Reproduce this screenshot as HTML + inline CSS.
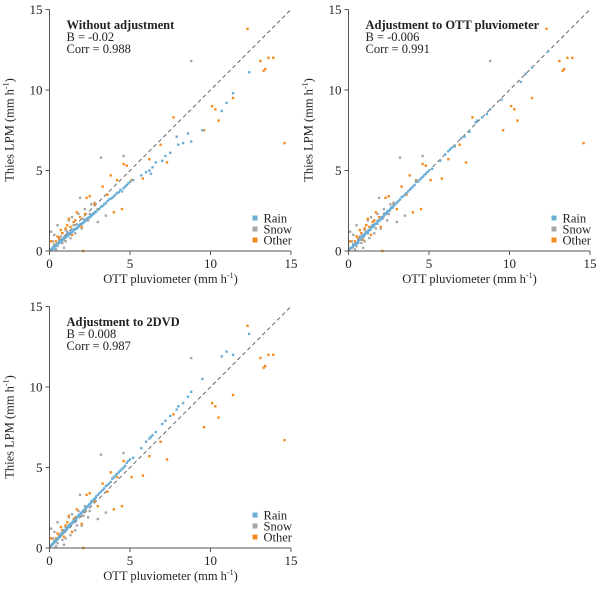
<!DOCTYPE html>
<html><head><meta charset="utf-8"><style>
body{margin:0;background:#fff}
svg text{font-family:"Liberation Serif",serif;fill:#222}
</style></head><body>
<svg id="c" width="600" height="598" xmlns="http://www.w3.org/2000/svg"></svg>
<script>
const ticks=[0,5,10,15];
const tickLabels=["0","5","10","15"];
const seriesNames=["Rain","Snow","Other"];
const colors={Rain:"#6aaed6",Snow:"#a6a6a6",Other:"#f58a1f"};
const titles=["Without adjustment","Adjustment to OTT pluviometer","Adjustment to 2DVD"];
const biasVals=["-0.02","-0.006","0.008"];
const corrVals=["0.988","0.991","0.987"];
const rainX=[0.2,0.3,0.4,0.5,0.6,0.7,0.8,0.9,1,1.1,1.2,1.3,1.4,1.5,1.6,1.7,1.8,1.9,2,2.1,2.2,2.3,2.4,2.5,2.6,2.7,2.8,2.9,3,3.2,3.3,3.4,3.6,3.7,3.8,4,4.1,4.2,4.4,4.5,4.6,4.8,4.9,5,5.2,5.7,6,6.2,6.3,6.4,6.6,7,7.2,7.5,7.9,8,8.3,8.6,8.8,9.5,10.7,11,11.4,12.4,
 0.1,0.15,0.25,0.35,0.45,0.55,0.65,0.75,0.85,0.95,1.05,1.15,1.25,1.35,1.45,1.55,1.65,1.75,1.85,1.95,2.05,2.15,2.25,2.35,2.45,2.55,2.65,2.75,2.85,3.1,3.5,3.9,4.3,4.7,0.3,0.6,0.9,1.2,1.5,1.8];
const rainY1=[0.2,0.15,0.35,0.45,0.5,0.55,0.7,0.8,0.85,0.95,1.0,1.1,1.2,1.3,1.35,1.4,1.5,1.65,1.7,1.75,1.85,2.0,2.05,2.1,2.2,2.3,2.4,2.45,2.55,2.75,2.8,2.9,3.1,3.2,3.25,3.4,3.5,3.6,3.8,3.7,3.9,4.1,4.2,4.3,4.4,4.7,4.9,5.0,4.8,5.2,5.5,5.6,5.9,6.1,7.1,6.6,6.7,7.3,6.8,7.5,8.7,9.2,9.8,11.1,
 0.1,0.12,0.25,0.3,0.4,0.48,0.58,0.62,0.72,0.82,0.88,1.0,1.05,1.15,1.22,1.33,1.4,1.47,1.58,1.66,1.72,1.83,1.9,2.0,2.08,2.15,2.25,2.32,2.42,2.62,2.98,3.3,3.65,4.0,0.35,0.6,0.85,1.1,1.35,1.6];
const rainY2=[0.2,0.3,0.4,0.5,0.6,0.75,0.8,0.9,1.0,1.15,1.2,1.3,1.45,1.5,1.6,1.7,1.85,1.9,2.0,2.1,2.2,2.35,2.4,2.5,2.6,2.7,2.8,2.9,3.0,3.2,3.35,3.4,3.6,3.7,3.8,4.0,4.1,4.3,4.4,4.5,4.6,4.8,4.9,5.0,5.1,5.6,6.0,6.2,6.3,6.4,6.5,7.0,7.1,7.4,8.0,8.1,8.3,8.5,8.8,9.4,10.5,11.0,11.4,12.4,
 0.15,0.2,0.25,0.4,0.45,0.5,0.7,0.7,0.9,0.9,1.1,1.1,1.3,1.3,1.5,1.5,1.7,1.7,1.9,1.9,2.1,2.1,2.3,2.3,2.5,2.5,2.7,2.7,2.9,3.1,3.5,3.9,4.3,4.7,0.4,0.5,1.0,1.1,1.6,1.7];
const rainY3=[0.25,0.35,0.45,0.55,0.65,0.8,0.9,1.0,1.1,1.25,1.3,1.45,1.55,1.65,1.75,1.9,2.0,2.1,2.2,2.3,2.4,2.55,2.6,2.7,2.85,2.95,3.05,3.2,3.3,3.5,3.6,3.7,3.9,4.0,4.1,4.4,4.5,4.6,4.8,4.9,5.0,5.3,5.4,5.5,5.6,6.2,6.6,6.8,6.9,7.0,7.2,7.7,7.9,8.2,8.6,8.8,9.0,9.4,9.7,10.5,11.9,12.2,12.0,13.3,
 0.15,0.2,0.3,0.4,0.5,0.6,0.7,0.85,0.95,1.05,1.15,1.3,1.4,1.5,1.6,1.7,1.8,1.95,2.05,2.15,2.25,2.35,2.45,2.55,2.7,2.8,2.9,3.0,3.1,3.4,3.85,4.3,4.7,5.1,0.45,0.7,1.1,1.4,1.7,2.0];
const snowX=[0.2,0.3,0.5,0.5,0.7,0.8,1,1,1.2,1.3,1.5,1.6,1.8,1.9,2,2.2,2.4,2.6,3,3.2,3.5,4.6,8.8,0.1,0.4,2.8,1.4,0.9,0.6,1.1,1.7,2.1,2.5,0.3,0.8];
const snowY=[0.6,1.0,1.6,0.3,0.9,0.5,1.3,0.6,1.9,0.8,1.6,1.1,2.3,3.3,1.4,2.6,1.9,2.9,1.8,5.8,2.2,5.9,11.8,1.2,0.1,3.0,2.1,0.2,0.7,1.2,1.4,2.0,2.3,0.4,1.1];
const otherX=[0.1,0.3,0.5,0.7,0.9,1.1,1.2,1.4,1.5,1.7,2,2.3,2.5,2.8,3,3.3,3.6,3.8,4,4.2,4.5,4.6,4.8,5.1,5.8,6.9,7.3,7.7,9.6,10.1,10.3,10.5,11.4,12.3,13.1,13.3,13.4,13.6,13.9,14.6,2.1,6.2,0.6,0.8,1.0,1.3,1.6,1.9,2.2,0.4];
const otherY=[0.6,0.4,0.9,1.3,0.7,1.6,2.0,1.0,1.8,2.4,1.5,3.3,3.4,2.9,2.6,4.0,3.5,4.7,2.4,4.4,2.6,5.4,5.3,4.4,4.5,6.6,5.5,8.3,7.5,9.0,8.8,8.1,9.5,13.8,11.8,11.2,11.3,12.0,12.0,6.7,0.0,5.7,0.8,1.1,1.4,1.5,1.9,2.1,2.3,0.6];
const rainYs=[rainY1,rainY2,rainY3];
const svg=document.getElementById('c');const NS="http://www.w3.org/2000/svg";
function mk(t,a,p){const e=document.createElementNS(NS,t);for(const k in a)e.setAttribute(k,a[k]);(p||svg).appendChild(e);return e;}
function panel(i,ox,oy){
 const g=mk('g',{});
 
 
 const W=241.5;
 const sx=v=>ox+v/15*W, sy=v=>oy-v/15*W;
 mk('line',{x1:sx(0),y1:sy(0),x2:sx(15),y2:sy(15),stroke:"#444","stroke-width":0.8,"stroke-dasharray":"4,3"},g);
 function pts(xs,ys,name){xs.forEach((x,j)=>{const r=mk('rect',{x:sx(x)-1.2,y:sy(ys[j])-1.2,width:2.4,height:2.4,fill:colors[name]},g);
  
  });}
 pts(snowX,snowY,"Snow");pts(otherX,otherY,"Other");pts(rainX,rainYs[i],"Rain");
 mk('line',{x1:ox,y1:oy,x2:ox+W,y2:oy,stroke:"#555","stroke-width":1},g);
 mk('line',{x1:ox,y1:oy,x2:ox,y2:oy-W,stroke:"#555","stroke-width":1},g);
 ticks.forEach((t,j)=>{
  mk('line',{x1:sx(t),y1:oy,x2:sx(t),y2:oy+4,stroke:"#555"},g);
  mk('line',{x1:ox,y1:sy(t),x2:ox-4,y2:sy(t),stroke:"#555"},g);
  const a=mk('text',{x:sx(t),y:oy+17,"text-anchor":"middle","font-size":13},g);a.textContent=tickLabels[j];
  const b=mk('text',{x:ox-7,y:sy(t)+4.5,"text-anchor":"end","font-size":13},g);b.textContent=tickLabels[j];
 });
 const xl=mk('text',{x:ox+121,y:oy+32,"text-anchor":"middle","font-size":12.5},g);
 
 xl.innerHTML='OTT pluviometer (mm h<tspan dy="-5" font-size="8">-1</tspan><tspan dy="5">)</tspan>';
 const yl=mk('text',{transform:`translate(${ox-36},${oy-121}) rotate(-90)`,"text-anchor":"middle","font-size":12.5},g);
 
 yl.innerHTML='Thies LPM (mm h<tspan dy="-5" font-size="8">-1</tspan><tspan dy="5">)</tspan>';
 const t1=mk('text',{x:ox+17,y:oy-222,"font-size":12.5,"font-weight":"bold"},g);t1.textContent=titles[i];
 
 const t2=mk('text',{x:ox+17,y:oy-210,"font-size":12.5},g);t2.textContent="B = "+biasVals[i];
 const t3=mk('text',{x:ox+17,y:oy-198,"font-size":12.5},g);t3.textContent="Corr = "+corrVals[i];
 seriesNames.forEach((n,j)=>{
  const y=oy-33+j*11;
  const s=mk('rect',{x:ox+203,y:y-2.5,width:5,height:5,fill:colors[n]},g);
  
  const lt=mk('text',{x:ox+214,y:y+4.5,"font-size":12.5},g);lt.textContent=n;
  
 });
}
panel(0,49.5,251);panel(1,348.5,251);panel(2,49.5,548);
</script>
</body></html>
